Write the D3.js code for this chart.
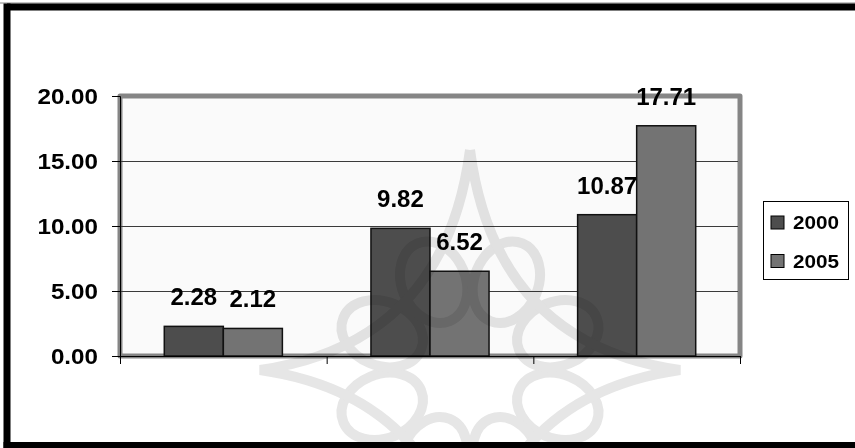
<!DOCTYPE html>
<html>
<head>
<meta charset="utf-8">
<script src="https://cdn.jsdelivr.net/npm/d3@7/dist/d3.min.js"></script>
<style>
  html, body { margin: 0; padding: 0; background: #fff; }
  svg { display: block; }
  text { font-family: "Liberation Sans", Arial, sans-serif; font-weight: bold; fill: #000; }
</style>
</head>
<body>
<svg id="chart" width="855" height="448"></svg>
<script>
// ---- data ----
const categories = ["A", "B", "C"];
const seriesNames = ["2000", "2005"];
const values2000 = [2.28, 9.82, 10.87];
const values2005 = [2.12, 6.52, 17.71];
const yTicks = [0, 5, 10, 15, 20];
const seriesColors = ["#4d4d4d", "#737373"];

const svg = d3.select("#chart");
const W = 855, H = 448;
const plot = { left: 120, right: 740, top: 96, bottom: 356 };

svg.append("rect").attr("width", W).attr("height", H).attr("fill", "#fff");

const x0 = d3.scaleBand().domain(categories).range([plot.left, plot.right]).paddingInner(0).paddingOuter(0);
const x1 = d3.scaleBand().domain(seriesNames).range([0, x0.bandwidth()]).paddingInner(0).paddingOuter(0.75);
const y = d3.scaleLinear().domain([0, 20]).range([plot.bottom, plot.top]);

const rows = categories.map((c, i) => ({ cat: c, vals: [values2000[i], values2005[i]] }));

// horizontally stretched text helper
function stretch(sel, k) {
  sel.each(function () {
    const len = this.getComputedTextLength();
    d3.select(this).attr("textLength", len * k).attr("lengthAdjust", "spacingAndGlyphs");
  });
}

// plot background and frame
svg.append("rect")
  .attr("x", plot.left).attr("y", plot.top)
  .attr("width", plot.right - plot.left).attr("height", plot.bottom - plot.top)
  .attr("fill", "#fafafa").attr("stroke", "#858585").attr("stroke-width", 5)
  .attr("stroke-linejoin", "round");

// gridlines
svg.append("g").selectAll("line").data(yTicks.filter(t => t > 0 && t < 20)).join("line")
  .attr("x1", plot.left).attr("x2", plot.right - 2)
  .attr("y1", d => y(d) + 0.5).attr("y2", d => y(d) + 0.5)
  .attr("stroke", "#3a3a3a").attr("stroke-width", 1);

// bars
const groups = svg.append("g").selectAll("g").data(rows).join("g")
  .attr("transform", d => `translate(${x0(d.cat)},0)`);
groups.selectAll("rect").data(d => d.vals.map((v, j) => ({ v, s: seriesNames[j], j }))).join("rect")
  .attr("x", d => x1(d.s)).attr("y", d => y(d.v))
  .attr("width", x1.bandwidth()).attr("height", d => y(0) - y(d.v))
  .attr("fill", d => seriesColors[d.j]).attr("stroke", "#111").attr("stroke-width", 1.5);

// y axis
const yAxis = d3.axisLeft(y).tickValues(yTicks).tickSize(8).tickPadding(14).tickFormat(d3.format(".2f"));
const gy = svg.append("g").attr("transform", `translate(${plot.left},0)`).call(yAxis);
gy.select(".domain").attr("stroke", "#000").attr("stroke-width", 1);
gy.selectAll(".tick line").attr("stroke", "#000");
gy.selectAll(".tick text").attr("font-size", 22).attr("fill", "#000").attr("dy", "0.32em")
  .call(stretch, 1.1);

// x axis (category ticks at band boundaries, no labels)
const xAxis = d3.axisBottom(x0).tickSize(0).tickFormat("");
const gx = svg.append("g").attr("transform", `translate(0,${plot.bottom})`).call(xAxis);
gx.select(".domain").attr("stroke", "#000").attr("stroke-width", 1);
svg.append("g").selectAll("line")
  .data(categories.map(c => x0(c)).concat([x0(categories[categories.length - 1]) + x0.bandwidth()]))
  .join("line")
  .attr("x1", d => d + 0.5).attr("x2", d => d + 0.5)
  .attr("y1", plot.bottom).attr("y2", plot.bottom + 8)
  .attr("stroke", "#000");

// value labels
groups.selectAll("text.val").data(d => d.vals.map((v, j) => ({ v, s: seriesNames[j] }))).join("text")
  .attr("class", "val")
  .attr("x", d => x1(d.s) + x1.bandwidth() / 2)
  .attr("y", d => y(d.v) - 21)
  .attr("text-anchor", "middle").attr("font-size", 24)
  .text(d => d.v.toFixed(2));

// legend
const leg = svg.append("g");
leg.append("rect").attr("x", 763.5).attr("y", 201.5).attr("width", 85).attr("height", 78)
  .attr("fill", "#fff").attr("stroke", "#000").attr("stroke-width", 1);
const items = leg.selectAll("g").data(seriesNames).join("g")
  .attr("transform", (d, i) => `translate(771,${216 + i * 38.5})`);
items.append("rect").attr("width", 13).attr("height", 13)
  .attr("fill", (d, i) => seriesColors[i]).attr("stroke", "#000").attr("stroke-width", 1);
items.append("text").attr("x", 22).attr("y", 13).attr("font-size", 18).text(d => d)
  .call(stretch, 1.15);

// faint ornamental watermark
const C = { x: 470, y: 370 };
const wm = svg.append("g").attr("fill", "none").attr("stroke", "#cdcdcd").attr("stroke-width", 10)
  .style("mix-blend-mode", "multiply").attr("opacity", 0.5);
d3.range(8).forEach(k => {
  const a = (k * 45 + 22.5) * Math.PI / 180;
  const cx = C.x + 95 * Math.cos(a), cy = C.y + 95 * Math.sin(a);
  wm.append("ellipse")
    .attr("cx", cx).attr("cy", cy).attr("rx", 32).attr("ry", 42)
    .attr("transform", `rotate(${k * 45 + 22.5 + 90},${cx},${cy})`);
});
const tips = [[470, 150], [680, 370], [470, 590], [260, 370]];
const star = d3.path();
tips.forEach((t, i) => {
  const n = tips[(i + 1) % 4];
  if (i === 0) star.moveTo(t[0], t[1]);
  star.quadraticCurveTo(C.x + (t[0] + n[0] - 2 * C.x) * 0.12, C.y + (t[1] + n[1] - 2 * C.y) * 0.12, n[0], n[1]);
});
wm.append("path").attr("d", star.toString());

// outer frame: heavy rules along top, left and bottom
svg.append("line").attr("x1", 0).attr("x2", W).attr("y1", 3).attr("y2", 3).attr("stroke", "#888").attr("stroke-width", 1);
svg.append("line").attr("x1", 7).attr("x2", W).attr("y1", 7).attr("y2", 7).attr("stroke", "#000").attr("stroke-width", 7);
svg.append("line").attr("x1", 7).attr("x2", 7).attr("y1", 3.5).attr("y2", 448).attr("stroke", "#000").attr("stroke-width", 7);
svg.append("line").attr("x1", 3.5).attr("x2", W).attr("y1", 445).attr("y2", 445).attr("stroke", "#000").attr("stroke-width", 6);
</script>
</body>
</html>
